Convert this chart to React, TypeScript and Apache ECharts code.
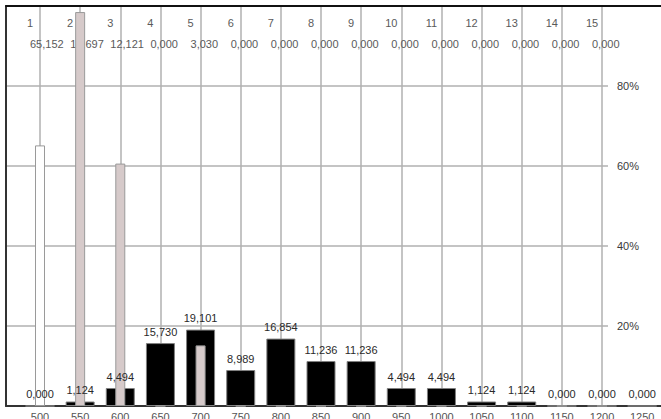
import React, { useEffect, useRef } from "react";
import * as echarts from "echarts";

// ---- data ----
const binLabels = ["500", "550", "600", "650", "700", "750", "800", "850", "900", "950", "1000", "1050", "1100", "1150", "1200", "1250"];
const binPercent = [0, 1.124, 4.494, 15.73, 19.101, 8.989, 16.854, 11.236, 11.236, 4.494, 4.494, 1.124, 1.124, 0, 0, 0];
const classLabels = ["1", "2", "3", "4", "5", "6", "7", "8", "9", "10", "11", "12", "13", "14", "15"];
const classValues = [65.152, 19.697, 12.121, 0, 3.03, 0, 0, 0, 0, 0, 0, 0, 0, 0, 0];
const percentMax = 100;
const percentStep = 20;
const classScaleMax = 20;

const FONT = "'Liberation Sans', Arial, Helvetica, sans-serif";
const fmt = (v: number) => v.toFixed(3).replace(".", ",");

export default function App() {
  const ref = useRef<HTMLDivElement>(null);
  useEffect(() => {
    if (!ref.current) return;
    const chart = echarts.init(ref.current, undefined, { renderer: "svg" });
    const gridLine = { color: "#b0b0b0", width: 1.5 };
    const hidden = { show: false };
    const g = (o: any) => ({ top: 6, height: 400, containLabel: false, outerBoundsMode: "none", ...o });
    const option: any = {
      animation: false,
      backgroundColor: "#fff",
      textStyle: { fontFamily: FONT },
      grid: [
        g({ left: 6, right: 0 }), // frame
        g({ left: 40, right: 59 }), // vertical grid lines
        g({ left: 6, right: 53 }), // horizontal grid lines + % labels
        g({ left: 30, right: 69 }), // top class labels
        g({ left: 19.93, width: 642.3 }), // bars
      ],
      xAxis: [
        {
          gridIndex: 0, type: "value", min: 0, max: 1, position: "bottom", z: 1,
          axisLine: { show: true, onZero: false, lineStyle: { color: "#333", width: 2 } },
          axisTick: hidden, axisLabel: hidden, splitLine: hidden,
        },
        {
          gridIndex: 0, type: "value", min: 0, max: 1, position: "top", z: 1,
          axisLine: { show: true, onZero: false, lineStyle: { color: "#111", width: 2 } },
          axisTick: hidden, axisLabel: hidden, splitLine: hidden,
        },
        {
          gridIndex: 1, type: "category", data: classLabels, boundaryGap: false,
          axisLine: hidden, axisTick: hidden, axisLabel: hidden,
          splitLine: { show: true, interval: 0, lineStyle: gridLine },
        },
        { gridIndex: 2, type: "value", min: 0, max: 1, show: false },
        {
          gridIndex: 3, type: "category", data: classLabels, boundaryGap: false, position: "top",
          axisLine: hidden, axisTick: hidden, splitLine: hidden,
          axisLabel: { inside: true, interval: 0, margin: 11, color: "#5a5a5a", fontSize: 11, fontFamily: FONT },
        },
        {
          gridIndex: 3, type: "category", data: classValues.map(fmt), boundaryGap: false, position: "top",
          axisLine: hidden, axisTick: hidden, splitLine: hidden,
          axisLabel: { inside: true, interval: 0, margin: 32, align: "left", color: "#5a5a5a", fontSize: 11, fontFamily: FONT },
        },
        {
          gridIndex: 4, type: "category", data: binLabels, position: "bottom",
          axisLine: hidden, axisTick: hidden, splitLine: hidden,
          axisLabel: { interval: 0, margin: 5, color: "#555", fontSize: 11, fontFamily: FONT },
        },
        { gridIndex: 4, type: "category", data: binLabels, show: false },
      ],
      yAxis: [
        {
          gridIndex: 0, type: "value", min: 0, max: 1, position: "left", z: 1,
          axisLine: { show: true, onZero: false, lineStyle: { color: "#333", width: 2 } },
          axisTick: hidden, axisLabel: hidden, splitLine: hidden,
        },
        { gridIndex: 1, type: "value", min: 0, max: 1, show: false },
        {
          gridIndex: 2, type: "value", min: 0, max: percentMax, interval: percentStep, position: "right",
          axisLine: hidden, axisTick: hidden,
          splitLine: { show: true, lineStyle: gridLine },
          axisLabel: {
            margin: 9, color: "#3a3a3a", fontSize: 11, fontFamily: FONT, padding: [0, 0, 8, 0],
            formatter: (v: number) => (v === 0 || v === percentMax ? "" : v + "%"),
          },
        },
        { gridIndex: 3, type: "value", min: 0, max: 1, show: false },
        { gridIndex: 4, type: "value", min: 0, max: percentMax, show: false },
        { gridIndex: 4, type: "value", min: 0, max: classScaleMax, show: false },
      ],
      series: [
        {
          type: "bar", xAxisIndex: 6, yAxisIndex: 4, data: binPercent, barWidth: 29,
          itemStyle: { color: "#000", borderColor: "#808080", borderWidth: 1 },
          label: {
            show: true, position: "top", distance: 6, color: "#2a2a2a", fontSize: 11, fontFamily: FONT,
            formatter: (p: any) => fmt(p.value),
          },
        },
        {
          type: "bar", xAxisIndex: 7, yAxisIndex: 4, barWidth: 10, barGap: "-100%",
          data: classValues.map((v, i) => (i === 0 ? v : "-")),
          itemStyle: { color: "#fff", borderColor: "#9a9a9a", borderWidth: 1 },
        },
        {
          type: "bar", xAxisIndex: 7, yAxisIndex: 5, barWidth: 10, barGap: "-100%",
          data: classValues.map((v, i) => (i === 0 ? "-" : v)),
          itemStyle: { color: "#d6caca", borderColor: "#9a9a9a", borderWidth: 1 },
        },
      ],
    };
    chart.setOption(option);
    return () => chart.dispose();
  }, []);
  return (
    <div
      ref={ref}
      style={{ position: "absolute", left: 0, top: 0, width: 661, height: 419, background: "#fff" }}
    />
  );
}
